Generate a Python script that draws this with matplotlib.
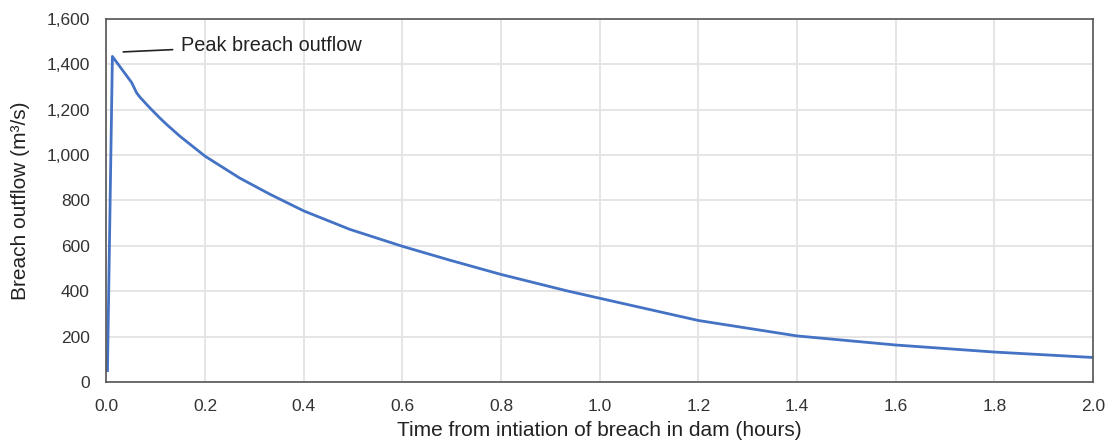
import matplotlib.pyplot as plt
from matplotlib.ticker import FuncFormatter

# breach outflow hydrograph
time_h = [0.002, 0.012, 0.034, 0.051, 0.061, 0.068, 0.088, 0.108, 0.122, 0.149, 0.2,
          0.27, 0.331, 0.4, 0.493, 0.6, 0.696, 0.8, 0.933, 1.0, 1.2, 1.4, 1.6, 1.8, 2.0]
outflow = [50, 1435, 1370, 1320, 1275, 1255, 1208, 1164, 1135, 1083, 995,
           899, 828, 754, 673, 598, 537, 474, 402, 369, 271, 203, 163, 132, 108]

plt.rcParams['font.family'] = ['Liberation Sans', 'DejaVu Sans']

fig = plt.figure(figsize=(11.08, 4.45), dpi=100)
ax = fig.add_axes([0.0961, 0.1416, 0.8904, 0.8157])

ax.plot(time_h, outflow, color='#4472C4', linewidth=2.0, solid_joinstyle='round')

ax.set_xlim(0, 2.0)
ax.set_ylim(0, 1600)
ax.set_xticks([i * 0.2 for i in range(11)])
ax.set_yticks(range(0, 1601, 200))
ax.yaxis.set_major_formatter(FuncFormatter(lambda v, p: f'{int(v):,}'))
ax.xaxis.set_major_formatter(FuncFormatter(lambda v, p: f'{v:.1f}'))
ax.tick_params(length=0, labelsize=12.5, colors='#333333')
ax.tick_params(axis='x', pad=12)
ax.tick_params(axis='y', pad=12)
ax.grid(True, color='#e3e3e3', linewidth=1.3)
ax.set_axisbelow(True)
for s in ax.spines.values():
    s.set_color('#555555')
    s.set_linewidth(1.2)

ax.set_xlabel('Time from intiation of breach in dam (hours)', fontsize=15, color='#222222', labelpad=5)
ax.set_ylabel('Breach outflow (m³/s)', fontsize=15, color='#222222', labelpad=12)

ax.annotate('Peak breach outflow', xy=(0.034, 1455), xytext=(0.151, 1485),
            fontsize=14.3, color='#222222', va='center',
            arrowprops=dict(arrowstyle='-', color='#222222', linewidth=1.2,
                            shrinkA=4, shrinkB=0))

fig.savefig('out.png', dpi=100)
